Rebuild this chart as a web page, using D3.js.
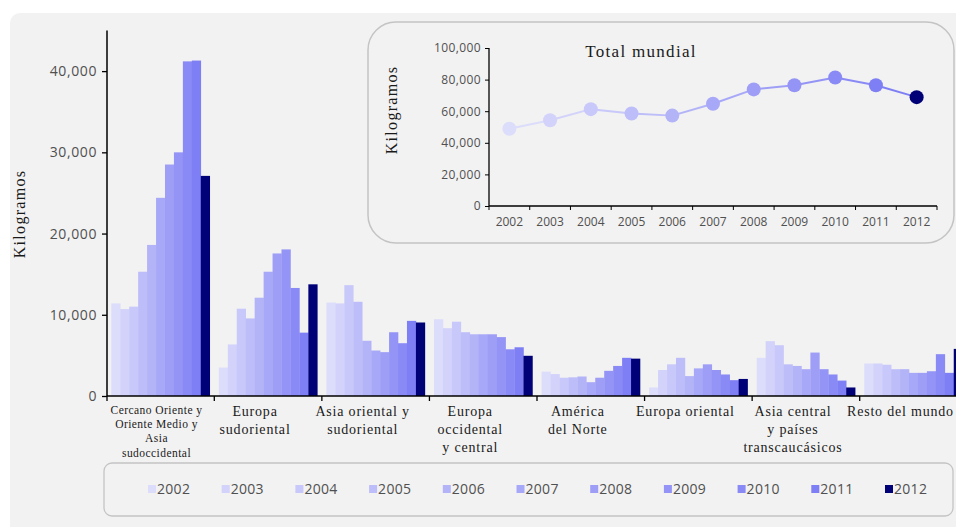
<!DOCTYPE html>
<html>
<head>
<meta charset="utf-8">
<script src="https://cdn.jsdelivr.net/npm/d3@7"></script>
<style>
  body { margin: 0; background: #ffffff; }
  .tick-label { font-family: "Open Sans", sans-serif; fill: #505050; }
  .serif { font-family: "Liberation Serif", "Times New Roman", serif; fill: #1a1a1a; }
</style>
</head>
<body>
<svg id="chart" width="956" height="527"></svg>
<script>
const years = ['2002','2003','2004','2005','2006','2007','2008','2009','2010','2011','2012']
const yearColours = ['#dcdcfb','#d2d2fb','#c8c8fa','#bdbdf9','#b3b3f8','#a8a8f8',
                     '#9e9ef7','#9494f6','#8a8af6','#7f7ff5','#000077']

const regions = ['Cercano Oriente','Europa sudoriental','Asia oriental','Europa occidental',
                 'America del Norte','Europa oriental','Asia central','Resto del mundo']
const regionLabels = [
  ['Cercano Oriente y','Oriente Medio y','Asia','sudoccidental'],
  ['Europa','sudoriental'],
  ['Asia oriental y','sudoriental'],
  ['Europa','occidental','y central'],
  ['América','del Norte'],
  ['Europa oriental'],
  ['Asia central','y países','transcaucásicos'],
  ['Resto del mundo']
]

// kilogramos por año, 2002-2012
const cercanoOriente    = [11400, 10700, 11000, 15300, 18600, 24400, 28500, 30000, 41200, 41300, 27100]
const europaSudoriental = [3500, 6350, 10750, 9550, 12100, 15300, 17550, 18050, 13300, 7800, 13750]
const asiaOriental      = [11500, 11400, 13650, 11600, 6800, 5600, 5400, 7850, 6500, 9250, 9050]
const europaOccidental  = [9450, 8350, 9150, 7850, 7600, 7600, 7600, 7250, 5750, 6000, 4950]
const americaNorte      = [3000, 2700, 2250, 2300, 2400, 1700, 2250, 3100, 3700, 4700, 4600]
const europaOriental    = [1050, 3200, 3900, 4700, 2450, 3400, 3900, 3200, 2650, 1950, 2100]
const asiaCentral       = [4700, 6750, 6250, 3900, 3700, 3300, 5350, 3300, 2650, 1900, 1050]
const restoMundo        = [4000, 4000, 3850, 3300, 3300, 2850, 2850, 3050, 5150, 2850, 5800]

const totalMundial = [48900, 54300, 61300, 58500, 57200, 64700, 73800, 76400, 81300, 76400, 68900]

const mainTicks = [0, 10000, 20000, 30000, 40000]
const insetTicks = [0, 20000, 40000, 60000, 80000, 100000]

const seriesByRegion = [cercanoOriente, europaSudoriental, asiaOriental, europaOccidental,
                        americaNorte, europaOriental, asiaCentral, restoMundo]

window.onload = function() {
  const svg = d3.select('#chart')
  const fmt = d3.format(',')

  // fondo gris del gráfico
  svg.append('rect')
      .attr('x', 10).attr('y', 13)
      .attr('width', 980).attr('height', 540)
      .attr('rx', 10)
      .attr('fill', '#f2f2f2')

  drawBars(svg, fmt)
  drawInset(svg, fmt)
  drawLegend(svg)
}

function drawBars(svg, fmt) {
  const left = 107, right = 967, bottom = 396

  const x = d3.scaleBand()
      .domain(regions)
      .range([left, right])
      .paddingInner(0.085)
      .paddingOuter(0.04)

  const xYear = d3.scaleBand()
      .domain(years)
      .range([0, x.bandwidth()])

  const y = d3.scaleLinear()
      .domain([0, 45000])
      .range([bottom, 30.5])

  const groups = svg.append('g').selectAll('g')
      .data(regions)
      .enter().append('g')
        .attr('transform', function(d) { return `translate(${x(d)},0)`; })

  groups.selectAll('rect')
      .data(function(d, i) {
        return seriesByRegion[i].map(function(v, j) { return {year: years[j], value: v}; });
      })
      .enter().append('rect')
        .attr('x', function(d) { return xYear(d.year); })
        .attr('width', xYear.bandwidth() + 0.3)
        .attr('y', function(d) { return y(d.value); })
        .attr('height', function(d) { return bottom - y(d.value); })
        .attr('fill', function(d, j) { return yearColours[j]; })

  // eje y
  const yAxis = svg.append('g')
      .attr('transform', `translate(${left},0)`)
      .call(d3.axisLeft(y).tickValues(mainTicks).tickFormat(fmt).tickSize(5).tickPadding(5))
  yAxis.select('.domain').attr('d', `M0,${y(45000)}V${bottom}`).attr('stroke', '#000').attr('stroke-width', 1.5)
  yAxis.selectAll('.tick line').attr('stroke', '#000').attr('stroke-width', 1.3)
  yAxis.selectAll('.tick text')
      .attr('class', 'tick-label')
      .style('font-size', '14px')
      .style('letter-spacing', '0.6px')

  // eje x, marcas entre grupos
  const step = x.step()
  const bounds = regions.map(function(d) { return x(d) - step * x.paddingInner() / 2; })
  bounds[0] = left
  bounds.push(right)

  svg.append('line')
      .attr('x1', left).attr('x2', right)
      .attr('y1', bottom).attr('y2', bottom)
      .attr('stroke', '#000').attr('stroke-width', 1.5)

  svg.append('g').selectAll('line')
      .data(bounds)
      .enter().append('line')
        .attr('x1', function(d) { return d; })
        .attr('x2', function(d) { return d; })
        .attr('y1', bottom).attr('y2', bottom + 5)
        .attr('stroke', '#000').attr('stroke-width', 1.3)

  // etiquetas de regiones
  svg.append('g').selectAll('text')
      .data(regionLabels)
      .enter().append('text')
        .attr('class', 'serif')
        .attr('text-anchor', 'middle')
        .style('font-size', function(d, i) { return i === 0 ? '11.5px' : '14px'; })
        .style('letter-spacing', function(d, i) { return i === 0 ? '0.45px' : '0.8px'; })
        .each(function(lines, i) {
          let cx = x(regions[i]) + x.bandwidth() / 2 - (i === 0 ? 4 : 13)
          const lh = i === 0 ? 14.2 : 17.8
          const base = i === 0 ? 414 : 416
          const spans = d3.select(this).selectAll('tspan')
              .data(lines)
              .enter().append('tspan')
                .attr('y', function(l, k) { return base + k * lh; })
                .text(function(l) { return l; })
          // que no se salga por la derecha
          let widest = 0
          spans.each(function() { widest = Math.max(widest, this.getComputedTextLength()); })
          cx = Math.min(cx, 955 - widest / 2)
          spans.attr('x', cx)
        })

  svg.append('text')
      .attr('class', 'serif')
      .attr('transform', 'translate(25,214) rotate(-90)')
      .attr('text-anchor', 'middle')
      .style('font-size', '16px')
      .style('letter-spacing', '1.3px')
      .text('Kilogramos')
}

function drawInset(svg, fmt) {
  svg.append('rect')
      .attr('x', 368).attr('y', 22)
      .attr('width', 586).attr('height', 221)
      .attr('rx', 28)
      .attr('fill', '#f2f2f2')
      .attr('stroke', '#c4c4c4')
      .attr('stroke-width', 1.5)

  const left = 489, right = 937, bottom = 206

  const x = d3.scaleBand()
      .domain(years)
      .range([left, right])

  const y = d3.scaleLinear()
      .domain([0, 100000])
      .range([bottom, 48])

  const yAxis = svg.append('g')
      .attr('transform', `translate(${left},0)`)
      .call(d3.axisLeft(y).tickValues(insetTicks).tickFormat(fmt).tickSize(4).tickPadding(4))
  yAxis.select('.domain').attr('d', `M0,${y(100000)}V${bottom}`).attr('stroke', '#000').attr('stroke-width', 1.3)
  yAxis.selectAll('.tick line').attr('stroke', '#000')
  yAxis.selectAll('.tick text')
      .attr('class', 'tick-label')
      .style('font-size', '12px')
      .style('letter-spacing', '0.4px')

  svg.append('line')
      .attr('x1', left).attr('x2', right)
      .attr('y1', bottom).attr('y2', bottom)
      .attr('stroke', '#000').attr('stroke-width', 1.3)

  const bounds = years.map(function(d) { return x(d); }).concat([right])
  svg.append('g').selectAll('line')
      .data(bounds)
      .enter().append('line')
        .attr('x1', function(d) { return d; })
        .attr('x2', function(d) { return d; })
        .attr('y1', bottom).attr('y2', bottom + 4)
        .attr('stroke', '#000')

  svg.append('g').selectAll('text')
      .data(years)
      .enter().append('text')
        .attr('class', 'tick-label')
        .attr('text-anchor', 'middle')
        .attr('x', function(d) { return x(d) + x.bandwidth() / 2; })
        .attr('y', bottom + 20)
        .style('font-size', '12px')
        .text(function(d) { return d; })

  const points = totalMundial.map(function(v, i) {
    return {year: years[i], value: v, colour: yearColours[i]};
  })

  // un segmento por año, color del año de salida
  svg.append('g').selectAll('line')
      .data(points.slice(0, -1))
      .enter().append('line')
        .attr('x1', function(d) { return x(d.year) + x.bandwidth() / 2; })
        .attr('y1', function(d) { return y(d.value); })
        .attr('x2', function(d, i) { return x(points[i + 1].year) + x.bandwidth() / 2; })
        .attr('y2', function(d, i) { return y(points[i + 1].value); })
        .attr('stroke', function(d) { return d.colour; })
        .attr('stroke-width', 2)

  svg.append('g').selectAll('circle')
      .data(points)
      .enter().append('circle')
        .attr('cx', function(d) { return x(d.year) + x.bandwidth() / 2; })
        .attr('cy', function(d) { return y(d.value); })
        .attr('r', 7)
        .attr('fill', function(d) { return d.colour; })

  svg.append('text')
      .attr('class', 'serif')
      .attr('x', 641).attr('y', 57)
      .attr('text-anchor', 'middle')
      .style('font-size', '17px')
      .style('letter-spacing', '1.3px')
      .text('Total mundial')

  svg.append('text')
      .attr('class', 'serif')
      .attr('transform', 'translate(397,110) rotate(-90)')
      .attr('text-anchor', 'middle')
      .style('font-size', '16px')
      .style('letter-spacing', '1.3px')
      .text('Kilogramos')
}

function drawLegend(svg) {
  svg.append('rect')
      .attr('x', 104).attr('y', 463)
      .attr('width', 849).attr('height', 53)
      .attr('rx', 8)
      .attr('fill', '#f2f2f2')
      .attr('stroke', '#c4c4c4')
      .attr('stroke-width', 1.3)

  const lx = d3.scalePoint()
      .domain(years)
      .range([148, 885])

  const items = svg.append('g').selectAll('g')
      .data(years)
      .enter().append('g')
        .attr('transform', function(d) { return `translate(${lx(d)},489)`; })

  items.append('rect')
      .attr('x', 0).attr('y', -4)
      .attr('width', 8).attr('height', 8)
      .attr('fill', function(d, i) { return yearColours[i]; })

  items.append('text')
      .attr('class', 'tick-label')
      .attr('x', 9).attr('y', 5)
      .style('font-size', '14px')
      .style('letter-spacing', '0.3px')
      .text(function(d) { return d; })
}
</script>
</body>
</html>
